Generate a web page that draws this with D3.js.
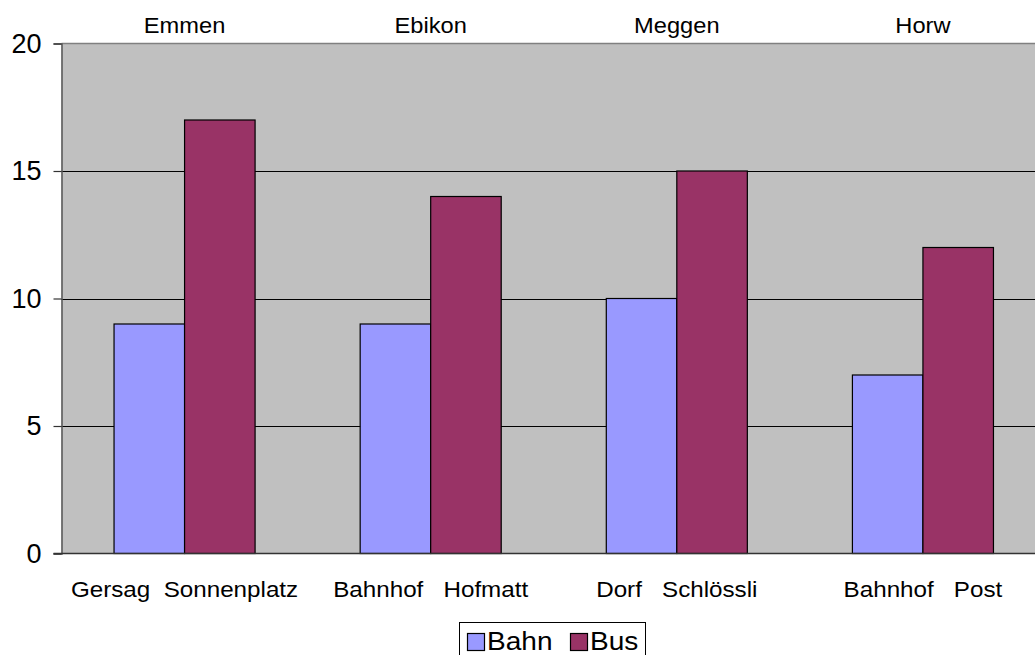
<!DOCTYPE html>
<html>
<head>
<meta charset="utf-8">
<script src="https://cdn.jsdelivr.net/npm/d3@7"></script>
<style>
  html, body { margin: 0; padding: 0; background: #fff; }
  svg { display: block; font-family: "Liberation Sans", Arial, sans-serif; }
</style>
</head>
<body>
<svg id="chart" width="1035" height="655"></svg>
<script>
// Towns (top labels) and the pair of stops shown under each group
const towns = ["Emmen", "Ebikon", "Meggen", "Horw"];
const stops = ["Gersag  Sonnenplatz", "Bahnhof   Hofmatt", "Dorf   Schlössli", "Bahnhof   Post"];
const seriesNames = ["Bahn", "Bus"];
const bahn = [9, 9, 10, 7];
const bus = [17, 14, 15, 12];
const yTicks = [0, 5, 10, 15, 20];
const colors = { Bahn: "#9999FF", Bus: "#993366" };

const svg = d3.select("#chart");
const WIDE = 1.1; // horizontal stretch of the label lettering

const plot = { left: 61.5, top: 43.5, bottom: 553.5, right: 1046 };

const y = d3.scaleLinear().domain([0, 20]).range([plot.bottom, plot.top]);
const x0 = d3.scaleBand().domain(towns).range([plot.left, plot.right]).padding(0);
const x1 = d3.scaleBand().domain(seriesNames).range([0, x0.bandwidth()])
  .paddingInner(0).paddingOuter(0.745);

// Plot background
svg.append("rect")
  .attr("x", plot.left).attr("y", plot.top)
  .attr("width", plot.right - plot.left).attr("height", plot.bottom - plot.top)
  .attr("fill", "#C0C0C0");

// Horizontal gridlines
svg.append("g").selectAll("line")
  .data(yTicks.filter(t => t > 0 && t < 20))
  .join("line")
  .attr("x1", plot.left).attr("x2", plot.right)
  .attr("y1", d => Math.round(y(d)) + 0.5).attr("y2", d => Math.round(y(d)) + 0.5)
  .attr("stroke", "#000").attr("stroke-width", 1);

// Top border of the plot
svg.append("line")
  .attr("x1", plot.left).attr("x2", plot.right)
  .attr("y1", plot.top).attr("y2", plot.top)
  .attr("stroke", "#808080").attr("stroke-width", 1.5);

// Bars
const rows = towns.map((t, i) => ({ town: t, Bahn: bahn[i], Bus: bus[i] }));
svg.append("g").selectAll("g")
  .data(rows)
  .join("g")
  .attr("transform", d => `translate(${x0(d.town)},0)`)
  .selectAll("rect")
  .data(d => seriesNames.map(k => ({ key: k, value: d[k] })))
  .join("rect")
  .attr("x", d => x1(d.key))
  .attr("y", d => y(d.value))
  .attr("width", x1.bandwidth())
  .attr("height", d => y(0) - y(d.value))
  .attr("fill", d => colors[d.key])
  .attr("stroke", "#000").attr("stroke-width", 1.2);

// Y axis
const yAxis = svg.append("g")
  .attr("transform", `translate(${plot.left},0)`)
  .call(d3.axisLeft(y).tickValues(yTicks).tickSize(8).tickPadding(12));
yAxis.select(".domain").attr("stroke", "#555").attr("stroke-width", 1.5);
yAxis.selectAll(".tick line").attr("stroke", "#333").attr("stroke-width", 1.2);
yAxis.selectAll("text").attr("font-size", 27).attr("fill", "#000")
  .attr("font-family", "Liberation Sans, Arial, sans-serif");

// Bottom axis line
svg.append("line")
  .attr("x1", plot.left - 8).attr("x2", plot.right)
  .attr("y1", plot.bottom).attr("y2", plot.bottom)
  .attr("stroke", "#333").attr("stroke-width", 1.5);

// Town labels above the plot
svg.append("g").selectAll("text")
  .data(towns)
  .join("text")
  .attr("transform", d => `translate(${x0(d) + x0.bandwidth() / 2},33) scale(${WIDE},1)`)
  .attr("text-anchor", "middle")
  .attr("font-size", 21.5)
  .text(d => d);

// Stop labels below the plot
svg.append("g").selectAll("text")
  .data(stops)
  .join("text")
  .attr("transform", (d, i) => `translate(${x0(towns[i]) + x0.bandwidth() / 2},597) scale(${WIDE},1)`)
  .attr("text-anchor", "middle")
  .attr("font-size", 22)
  .style("white-space", "pre")
  .text(d => d);

// Legend
const legend = svg.append("g");
legend.append("rect")
  .attr("x", 459.5).attr("y", 622.5).attr("width", 186).attr("height", 45)
  .attr("fill", "#fff").attr("stroke", "#000").attr("stroke-width", 1);
const legendX = [467.5, 570.5];
seriesNames.forEach((k, i) => {
  legend.append("rect")
    .attr("x", legendX[i]).attr("y", 633.5).attr("width", 17).attr("height", 17)
    .attr("fill", colors[k]).attr("stroke", "#000").attr("stroke-width", 1.2);
  legend.append("text")
    .attr("transform", `translate(${legendX[i] + 19.5},649.5) scale(${WIDE},1)`)
    .attr("font-size", 25.5)
    .text(k);
});
</script>
</body>
</html>
